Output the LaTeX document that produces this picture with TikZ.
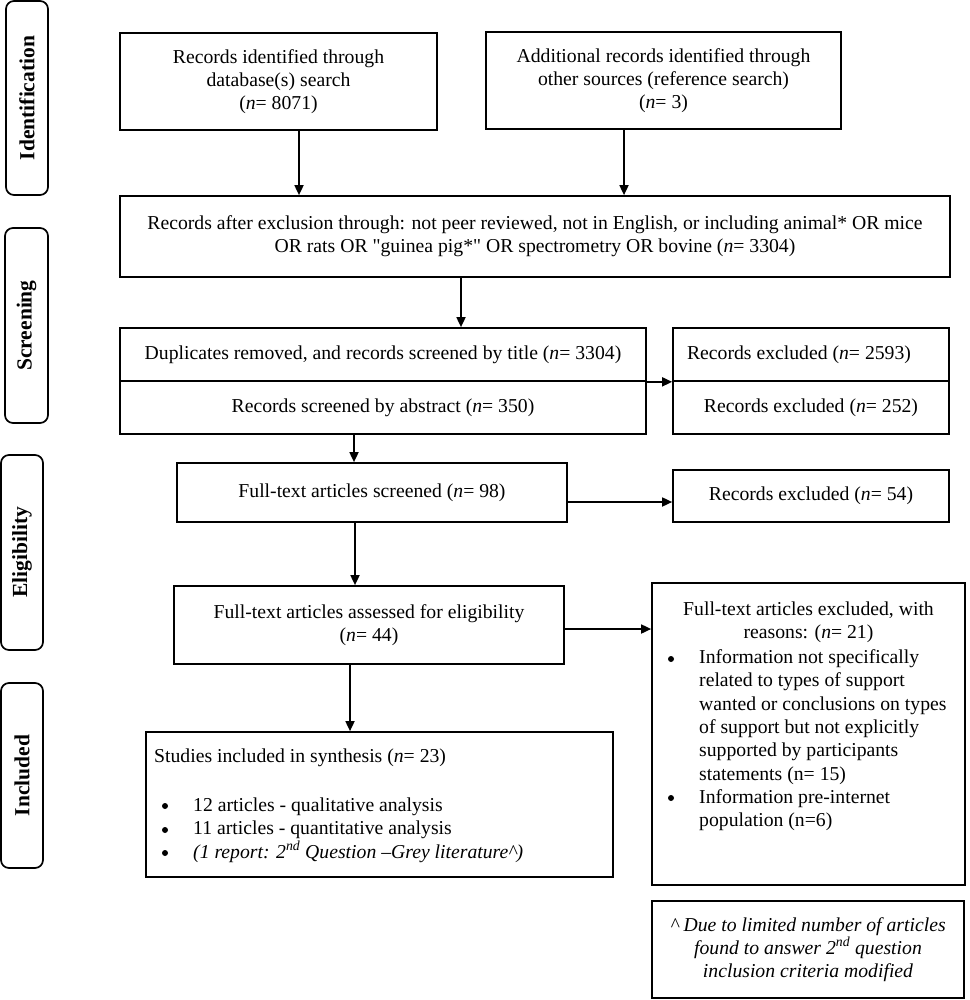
\documentclass[tikz,border=0pt]{standalone}
\usepackage{fontspec}
\setmainfont{Liberation Serif}
\usetikzlibrary{arrows.meta}
\newcommand\bodyfs{\fontsize{19.7}{23.3}\selectfont}
\newcommand\sq{{\addfontfeatures{Ligatures=TeXOff}\symbol{34}}}
\begin{document}
\begin{tikzpicture}[x=1pt,y=-1pt,
  bx/.style={draw, line width=1.7pt, inner sep=0pt, align=center, font=\bodyfs},
  txt/.style={inner sep=0pt, font=\bodyfs},
  bul/.style={circle, fill=black, inner sep=0pt, minimum size=6pt},
  lbl/.style={draw, line width=1.7pt, rounded corners=8pt, rotate=90, inner sep=0pt,
    font=\bfseries\fontsize{21.5}{24}\selectfont},
  arr/.style={line width=1.7pt, -{Triangle[length=10pt,width=9pt]}}]
\fill[white] (0,0) rectangle (969,1000);
\useasboundingbox (0,0) rectangle (969,1000);

% phase labels
\node[lbl, minimum width=194pt, minimum height=42pt] (L1) at (27,98) {Identification};
\node[lbl, minimum width=195pt, minimum height=43pt] (L2) at (26.5,325.5) {Screening};
\node[lbl, minimum width=195pt, minimum height=42pt] (L3) at (22,552.5) {Eligibility};
\node[lbl, minimum width=185pt, minimum height=42pt] (L4) at (22,775.5) {Included};

% identification
\node[bx, minimum width=317pt, minimum height=97pt] (A) at (278.5,81.5)
  {Records identified through\\database(s) search\\(\textit{n}= 8071)};
\node[bx, minimum width=355pt, minimum height=97pt] (B) at (663.5,80.5)
  {Additional records identified through\\other sources (reference search)\\(\textit{n}= 3)};
\node[bx, minimum width=830pt, minimum height=81pt] (C) at (535,236.5)
  {Records after exclusion through: not peer reviewed, not in English, or including animal* OR mice\\OR rats OR \sq guinea pig*\sq{} OR spectrometry OR bovine (\textit{n}= 3304)};

% screening
\node[bx, minimum width=526pt, minimum height=53pt] (D1) at (383,354.5)
  {Duplicates removed, and records screened by title (\textit{n}= 3304)};
\node[bx, minimum width=526pt, minimum height=53pt] (D2) at (383,407.5)
  {Records screened by abstract (\textit{n}= 350)};
\node[bx, minimum width=276pt, minimum height=53pt] (E1) at (811,354.5) {};
\node[txt] (E1t) at (799,355) {Records excluded (\textit{n}= 2593)};
\node[bx, minimum width=276pt, minimum height=53pt] (E2) at (811,407.5)
  {Records excluded (\textit{n}= 252)};

% eligibility
\node[bx, minimum width=390pt, minimum height=59pt] (F) at (372,492.5)
  {Full-text articles screened (\textit{n}= 98)};
\node[bx, minimum width=276pt, minimum height=52pt] (G) at (811,496)
  {Records excluded (\textit{n}= 54)};
\node[bx, minimum width=390pt, minimum height=78pt] (H) at (369,625)
  {Full-text articles assessed for eligibility\\(\textit{n}= 44)};

% excluded with reasons
\node[bx, minimum width=313pt, minimum height=302pt] (I) at (808.5,734) {};
\node[txt, align=center] (It) at (808.5,622.5)
  {Full-text articles excluded, with\\reasons: (\textit{n}= 21)};
\node[bul] (Ib1) at (671,659) {};
\node[txt, align=left, anchor=west] (Il1) at (699,717)
  {Information not specifically\\related to types of support\\wanted or conclusions on types\\of support but not explicitly\\supported by participants\\statements (n= 15)};
\node[bul] (Ib2) at (671,798) {};
\node[txt, align=left, anchor=west] (Il2) at (699,810)
  {Information pre-internet\\population (n=6)};

% included
\node[bx, minimum width=467pt, minimum height=145pt] (J) at (379.5,804.5) {};
\node[txt, anchor=west] (Jt) at (154,758) {Studies included in synthesis (\textit{n}= 23)};
\node[bul] (Jb1) at (165,806) {};
\node[bul] (Jb2) at (165,830) {};
\node[bul] (Jb3) at (165,853) {};
\node[txt, align=left, anchor=west] (Jl) at (193,830)
  {12 articles - qualitative analysis\\11 articles - quantitative analysis\\\textit{(1 report: 2\textsuperscript{nd} Question --Grey literature\textasciicircum)}};

% note
\node[bx, minimum width=312pt, minimum height=97pt, font=\bodyfs\itshape] (K) at (808,949.5)
  {\textasciicircum{} Due to limited number of articles\\found to answer 2\textsuperscript{nd} question\\inclusion criteria modified};

% connectors
\draw[arr] ([xshift=20.5pt]A.south) -- ([xshift=20.5pt]A.south |- C.north);
\draw[arr] ([xshift=-39.5pt]B.south) -- ([xshift=-39.5pt]B.south |- C.north);
\draw[arr] ([xshift=-74pt]C.south) -- ([xshift=-74pt]C.south |- D1.north);
\draw[arr] (D1.south east) -- (E1.south west);
\draw[arr] ([xshift=-29pt]D2.south) -- ([xshift=-29pt]D2.south |- F.north);
\draw[arr] ([yshift=-9.5pt]F.east) -- ([yshift=-9.5pt]F.east -| G.west);
\draw[arr] ([xshift=-17pt]F.south) -- ([xshift=-17pt]F.south |- H.north);
\draw[arr] ([yshift=-4pt]H.east) -- ([yshift=-4pt]H.east -| I.west);
\draw[arr] ([xshift=-19pt]H.south) -- ([xshift=-19pt]H.south |- J.north);
\end{tikzpicture}
\end{document}
